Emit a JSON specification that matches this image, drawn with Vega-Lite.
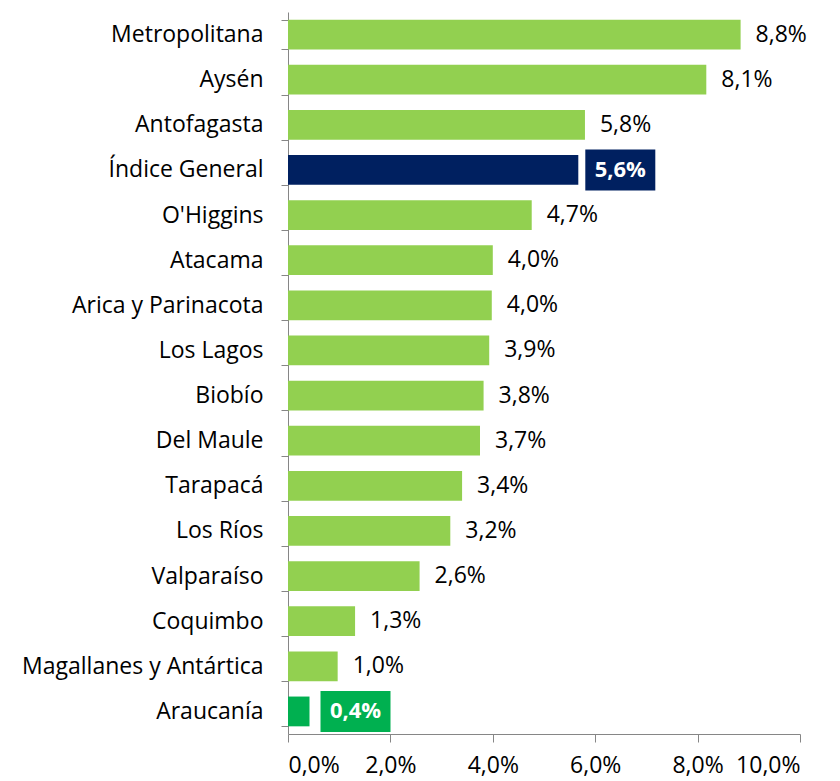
{
  "$schema": "https://vega.github.io/schema/vega-lite/v6.json",
  "width": 512,
  "height": 722,
  "autosize": "none",
  "padding": {"left": 288, "top": 12, "right": 40, "bottom": 47},
  "background": "white",
  "config": {"view": {"stroke": null}, "font": "Open Sans"},
  "data": {
    "values": [
      {"region": "Metropolitana", "value": 8.84, "label": "8,8%", "kind": "normal"},
      {"region": "Aysén", "value": 8.17, "label": "8,1%", "kind": "normal"},
      {"region": "Antofagasta", "value": 5.8, "label": "5,8%", "kind": "normal"},
      {"region": "Índice General", "value": 5.67, "label": "5,6%", "kind": "index"},
      {"region": "O'Higgins", "value": 4.76, "label": "4,7%", "kind": "normal"},
      {"region": "Atacama", "value": 4.0, "label": "4,0%", "kind": "normal"},
      {"region": "Arica y Parinacota", "value": 3.98, "label": "4,0%", "kind": "normal"},
      {"region": "Los Lagos", "value": 3.93, "label": "3,9%", "kind": "normal"},
      {"region": "Biobío", "value": 3.82, "label": "3,8%", "kind": "normal"},
      {"region": "Del Maule", "value": 3.75, "label": "3,7%", "kind": "normal"},
      {"region": "Tarapacá", "value": 3.4, "label": "3,4%", "kind": "normal"},
      {"region": "Los Ríos", "value": 3.17, "label": "3,2%", "kind": "normal"},
      {"region": "Valparaíso", "value": 2.57, "label": "2,6%", "kind": "normal"},
      {"region": "Coquimbo", "value": 1.31, "label": "1,3%", "kind": "normal"},
      {"region": "Magallanes y Antártica", "value": 0.97, "label": "1,0%", "kind": "normal"},
      {"region": "Araucanía", "value": 0.42, "label": "0,4%", "kind": "low"}
    ]
  },
  "encoding": {
    "y": {
      "field": "region",
      "type": "nominal",
      "sort": null,
      "scale": {"paddingInner": 0.34, "paddingOuter": 0.17},
      "axis": {
        "title": null,
        "tickBand": "extent",
        "domainColor": "#868686",
        "tickColor": "#868686",
        "tickSize": 7,
        "labelFontSize": 23,
        "labelColor": "#000000",
        "labelPadding": 18,
        "labelLimit": 400,
        "labelFont": "Open Sans"
      }
    },
    "x": {
      "field": "value",
      "type": "quantitative",
      "scale": {"domain": [0, 10], "nice": false},
      "axis": {
        "title": null,
        "values": [0, 2, 4, 6, 8, 10],
        "grid": false,
        "domainColor": "#868686",
        "tickColor": "#868686",
        "tickSize": 8,
        "labelFontSize": 23,
        "labelColor": "#000000",
        "labelPadding": 12,
        "labelFont": "Open Sans",
        "labelExpr": "replace(format(datum.value, '.1f'), '.', ',') + '%'"
      }
    }
  },
  "layer": [
    {
      "mark": {"type": "bar"},
      "encoding": {
        "color": {
          "field": "kind",
          "type": "nominal",
          "legend": null,
          "scale": {"domain": ["normal", "index", "low"], "range": ["#92D050", "#002060", "#00B050"]}
        }
      }
    },
    {
      "transform": [{"filter": "datum.kind == 'index'"}],
      "mark": {"type": "tick", "size": 41, "thickness": 70, "xOffset": 42, "opacity": 1},
      "encoding": {
        "color": {"field": "kind", "type": "nominal", "legend": null}
      }
    },
    {
      "transform": [{"filter": "datum.kind == 'low'"}],
      "mark": {"type": "tick", "size": 41, "thickness": 70, "xOffset": 46, "opacity": 1},
      "encoding": {
        "color": {"field": "kind", "type": "nominal", "legend": null}
      }
    },
    {
      "transform": [{"filter": "datum.kind == 'normal'"}],
      "mark": {"type": "text", "align": "left", "baseline": "middle", "dx": 15, "fontSize": 23, "color": "#000000", "font": "Open Sans"},
      "encoding": {"text": {"field": "label"}}
    },
    {
      "transform": [{"filter": "datum.kind == 'index'"}],
      "mark": {"type": "text", "align": "center", "baseline": "middle", "dx": 42, "fontSize": 22, "fontWeight": "bold", "color": "#ffffff", "font": "Open Sans"},
      "encoding": {"text": {"field": "label"}}
    },
    {
      "transform": [{"filter": "datum.kind == 'low'"}],
      "mark": {"type": "text", "align": "center", "baseline": "middle", "dx": 46, "fontSize": 22, "fontWeight": "bold", "color": "#ffffff", "font": "Open Sans"},
      "encoding": {"text": {"field": "label"}}
    }
  ]
}
